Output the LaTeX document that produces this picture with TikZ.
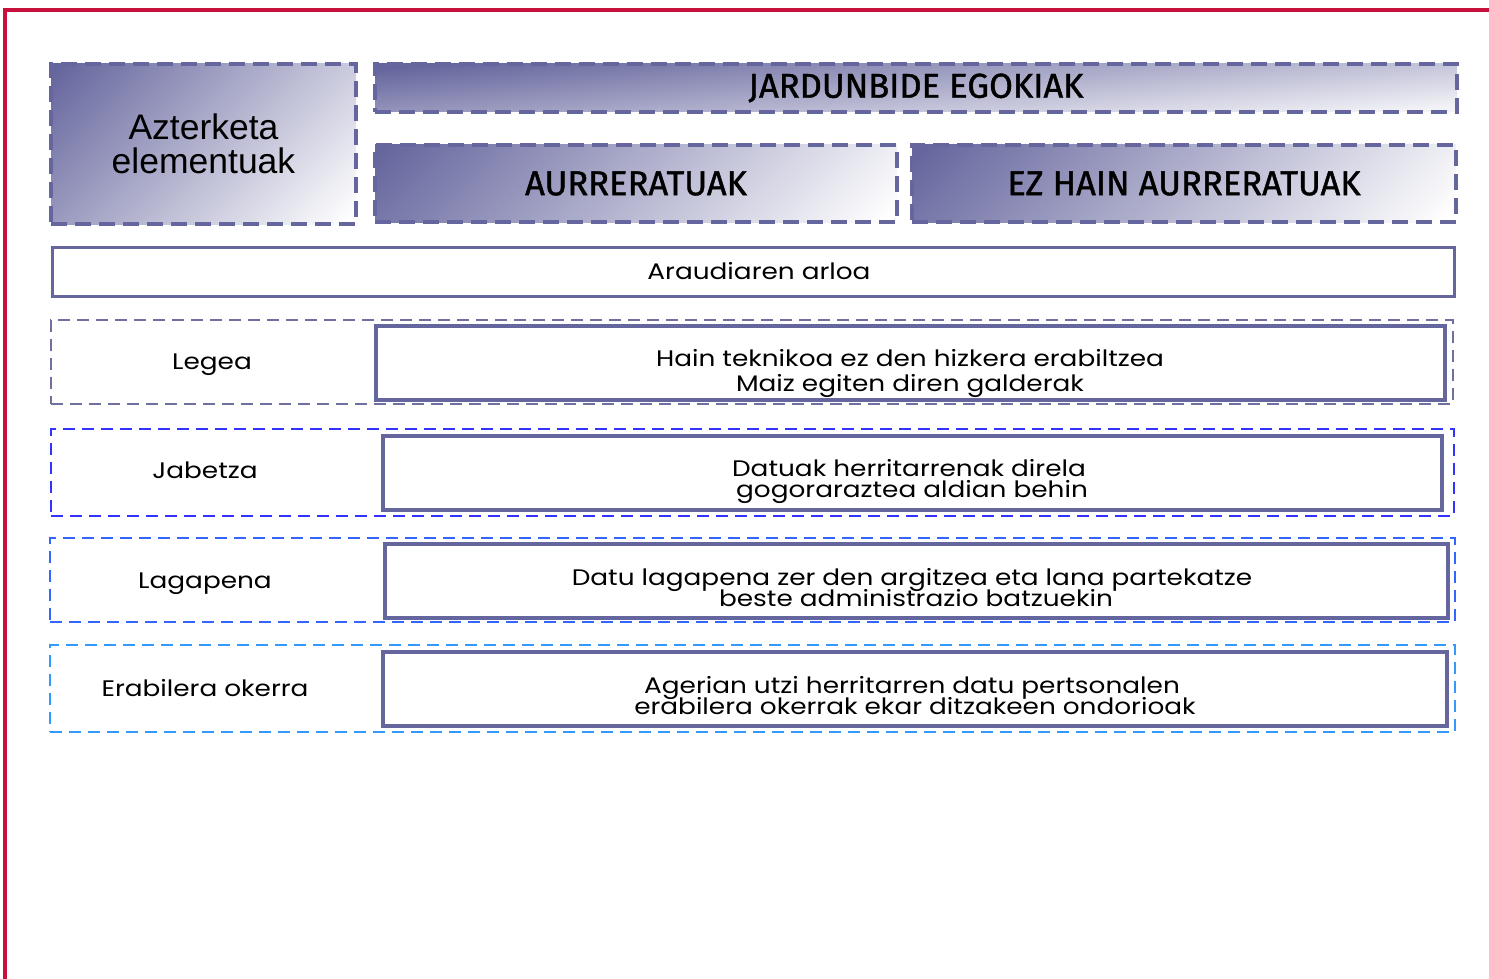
\documentclass[tikz,border=0pt]{standalone}
\usepackage{fontspec}
\setmainfont{Poppins}[FakeStretch=1.17]
\newfontfamily\hdfont{Fira Sans}[FakeBold=1.2]
\newfontfamily\azfont{Liberation Sans}
\definecolor{frame}{RGB}{200,16,60}
\definecolor{pur}{RGB}{102,102,158}
\definecolor{purdash}{RGB}{112,112,160}
\definecolor{blueA}{RGB}{51,51,255}
\definecolor{blueB}{RGB}{51,102,255}
\definecolor{blueC}{RGB}{51,153,255}
\pgfdeclareverticalshading{diagsh}{100bp}{color(0bp)=(white); color(16bp)=(white); color(84bp)=(pur); color(100bp)=(pur)}
\tikzset{
  hdbox/.style={draw=pur, line width=4pt, dash pattern=on 16pt off 8pt, inner sep=0pt, outer sep=0pt,
    anchor=north west, align=center},
  diagfill/.style={shading=diagsh, shading angle=45},
  hdtext/.style={font=\hdfont\fontsize{34.5}{36}\selectfont},
  rowbox/.style={line width=2.5pt, dash pattern=on 12pt off 7pt, inner sep=0pt, outer sep=0pt, anchor=north west},
  solidbox/.style={draw=pur, line width=4pt, inner sep=0pt, outer sep=0pt, anchor=north west},
  txt/.style={anchor=base, inner sep=0pt, font=\fontsize{22.5}{24}\selectfont},
}
\begin{document}
\begin{tikzpicture}[x=1pt,y=-1pt]
\useasboundingbox (0,0) rectangle (1489,979);
% frame
\draw[frame, line width=4pt] (1489,10) -- (5,10) -- (5,979);
% headers
\node[hdbox, diagfill, minimum width=305pt, minimum height=160pt,
  font=\azfont\fontsize{35.5}{34}\selectfont] (az) at (51,64) {Azterketa\\elementuak};
\node[hdbox, top color=pur, bottom color=white!92!pur, shading angle=5, minimum width=1082pt, minimum height=48pt,
  hdtext] (jar) at (375,64) {JARDUNBIDE EGOKIAK};
\node[hdbox, diagfill, minimum width=522pt, minimum height=77pt,
  hdtext] (aur) at (375,145) {AURRERATUAK};
\node[hdbox, diagfill, minimum width=544pt, minimum height=77pt,
  hdtext] (ez) at (912,145) {EZ HAIN AURRERATUAK};
% araudia
\node[draw=pur, line width=3pt, inner sep=0pt, anchor=north west, minimum width=1402pt, minimum height=49pt]
  (ar) at (51,246) {};
\node[txt] (art) at (759,279) {Araudiaren arloa};
% rows
\node[rowbox, draw=purdash, minimum width=1402pt, minimum height=84pt] (r1) at (51,320) {};
\node[rowbox, draw=blueA, minimum width=1403pt, minimum height=87pt] (r2) at (51,429) {};
\node[rowbox, draw=blueB, minimum width=1405pt, minimum height=84pt] (r3) at (50,538) {};
\node[rowbox, draw=blueC, minimum width=1405pt, minimum height=87pt] (r4) at (50,645) {};
% labels
\node[txt] (l1) at (212,369) {Legea};
\node[txt] (l2) at (205,478) {Jabetza};
\node[txt] (l3) at (205,588) {Lagapena};
\node[txt] (l4) at (205,696) {Erabilera okerra};
% inner boxes
\node[solidbox, minimum width=1069pt, minimum height=74pt] (i1) at (376,326) {};
\node[solidbox, minimum width=1059pt, minimum height=74pt] (i2) at (383,436) {};
\node[solidbox, minimum width=1063pt, minimum height=74pt] (i3) at (385,544) {};
\node[solidbox, minimum width=1064pt, minimum height=74pt] (i4) at (383,652) {};
\node[txt] (t1a) at (910,366) {Hain teknikoa ez den hizkera erabiltzea};
\node[txt] (t1b) at (910,391) {Maiz egiten diren galderak};
\node[txt] (t2a) at (909,476) {Datuak herritarrenak direla};
\node[txt] (t2b) at (912,497) {gogoraraztea aldian behin};
\node[txt] (t3a) at (912,585) {Datu lagapena zer den argitzea eta lana partekatze};
\node[txt] (t3b) at (916,606) {beste administrazio batzuekin};
\node[txt] (t4a) at (912,693) {Agerian utzi herritarren datu pertsonalen};
\node[txt] (t4b) at (915,714) {erabilera okerrak ekar ditzakeen ondorioak};
\end{tikzpicture}
\end{document}
